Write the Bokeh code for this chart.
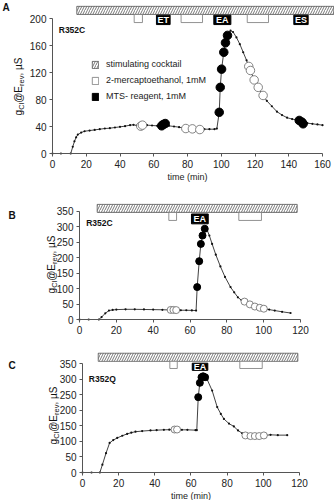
import math
from bokeh.plotting import figure
from bokeh.models import Range1d, FixedTicker, Label, Legend, LegendItem
from bokeh.core.properties import value
from bokeh.embed import file_html
from bokeh.resources import INLINE

FONT = "Liberation Sans"

# ---------------- data: panel A (R352C, ET / EA / ES) ----------------
a_time = [0, 5, 10.8, 12, 13, 14, 15, 17, 19, 22, 25, 28, 31, 34, 37, 40, 43, 46, 48, 50,
          52.3, 53.3, 56, 59, 62, 64.7, 65.6, 66.8, 69, 72, 75, 79, 82.9, 87.3, 90, 93, 96, 97.4,
          98.8, 99.4, 100.2, 101.5, 102.5, 103.7, 105.5, 107, 109, 111, 113, 115, 116.3, 117.3,
          119.5, 121.9, 124.8, 127, 130, 133, 136, 139, 142, 146.2, 147.8, 148.5, 151, 154, 157, 160]
a_gcl = [0, 0, 0, 10, 18, 24, 28, 31, 33, 34, 35, 36, 37, 37.5, 38.5, 39.5, 40.5, 42, 42.5, 41.5,
         40.5, 42, 42, 41.5, 41, 41, 43, 44.4, 41, 40, 39, 37, 36.5, 35.5, 36, 36, 36, 37,
         61, 98, 125, 150, 164, 175, 182, 180, 172, 162, 150, 138, 129, 123,
         109, 98, 86, 78, 70, 62, 57, 53, 51, 49, 46.5, 44, 45, 44, 43, 42]
a_open_t = [52.3, 53.3, 79, 82.9, 87.3, 116.3, 117.3, 119.5, 121.9, 124.8]
a_open_g = [40.5, 42, 37, 36.5, 35.5, 129, 123, 109, 98, 86]
a_fill_t = [64.7, 65.6, 66.8, 98.8, 99.4, 100.2, 101.5, 102.5, 103.7, 146.2, 147.8, 148.5]
a_fill_g = [41, 43, 44.4, 61, 98, 125, 150, 164, 175, 49, 46.5, 44]
a_cocktail = [14.4, 166.7]
a_me_start = [48.4, 76.2, 115.4]
a_me_end = [53.3, 88.9, 128.0]
a_mts_start = [61.6, 95.6, 143.0]
a_mts_end = [69.7, 105.7, 151.5]
a_mts_names = ["ET", "EA", "ES"]
a_xticks = [0, 20, 40, 60, 80, 100, 120, 140, 160]
a_yticks = [0, 40, 80, 120, 160, 200]

# ---------------- data: panel B (R352C, EA) ----------------
b_time = [0, 5, 10.5, 12, 14, 16, 18, 20, 25, 30, 35, 40, 45, 49.5, 51, 52.5, 55, 58, 61, 63.3,
          63.9, 65, 65.9, 66.8, 68, 69.3, 70.5, 72, 74, 76.5, 79, 82, 84, 86, 88, 89.6, 92.5,
          95.2, 97.9, 100.1, 103, 106, 110, 114.6]
b_gcl = [0, 0, 0, 8, 20, 29, 31, 32, 33, 33, 32.5, 32, 31.5, 31, 31, 30.5, 30, 30, 29.5, 29,
         105, 189, 245, 272, 294, 290, 272, 245, 210, 172, 138, 105, 88, 72, 62, 58, 49,
         42, 38, 35, 32, 29, 25, 21]
b_open_t = [49.5, 51, 52.5, 89.6, 92.5, 95.2, 97.9, 100.1]
b_open_g = [31, 31, 30.5, 58, 49, 42, 38, 35]
b_fill_t = [63.9, 65, 65.9, 66.8, 68]
b_fill_g = [105, 189, 245, 272, 294]
b_cocktail = [9.6, 118.2]
b_me_start = [48.5, 86.5]
b_me_end = [52.7, 98.8]
b_mts_start = [60.8]
b_mts_end = [69.9]
b_mts_names = ["EA"]
b_xticks = [0, 20, 40, 60, 80, 100, 120]
b_yticks = [0, 50, 100, 150, 200, 250, 300, 350]

# ---------------- data: panel C (R352Q, EA) ----------------
c_time = [0, 5, 9.6, 11, 13, 15, 17, 19.2, 22, 24.7, 27, 29.3, 33, 37.6, 41, 45, 48, 50.9, 52.3, 55,
          58, 62.5, 63.2, 64, 64.9, 65.8, 66.7, 67.8, 69, 71.7, 74.5, 76.5, 78.2, 81, 83.7, 86,
          88.3, 90.1, 92.9, 95.3, 97.7, 100.3, 104, 108, 113.2]
c_gcl = [0, 0, 0, 25, 62, 95, 104, 111, 118, 124, 128, 131, 133, 135, 136, 137, 137.5, 138, 138, 137,
         137, 136, 136, 242, 288, 306, 309, 306, 298, 263, 210, 188, 172, 157, 148, 135,
         126, 119, 117, 117, 117, 119, 121, 120, 120]
c_open_t = [50.9, 52.3, 90.1, 92.9, 95.3, 97.7, 100.3]
c_open_g = [138, 138, 119, 117, 117, 117, 119]
c_fill_t = [64, 64.9, 65.8, 66.7, 67.8]
c_fill_g = [242, 288, 306, 309, 306]
c_cocktail = [8.7, 119.1]
c_me_start = [48.3, 87.0]
c_me_end = [52.4, 99.4]
c_mts_start = [60.7]
c_mts_end = [69.3]
c_mts_names = ["EA"]
c_xticks = [0, 20, 40, 60, 80, 100, 120]
c_yticks = [0, 50, 100, 150, 200, 250, 300, 350]

# Arial-like advance widths (em) for composing the y-axis label
W = {"g": .556, "C": .722, "l": .222, "@": 1.015, "E": .667, "r": .333, "e": .556,
     "v": .5, ",": .278, " ": .278, "µ": .576, "S": .667}


def add_ylabel(p, x, y, size=10.0):
    """y-axis title g_Cl@E_rev, µS composed of rotated pieces (screen px, canvas origin)."""
    sub = size * 0.75
    parts = [("g", size, 0), ("Cl", sub, 2.6), ("@E", size, 0), ("rev", sub, 2.6), (", µS", size, 0)]
    widths = [sum(W[ch] for ch in t) * s for t, s, _ in parts]
    pos = y - sum(widths) / 2
    for (t, s, sh), w in zip(parts, widths):
        p.add_layout(Label(x=x + sh, y=pos, x_units="screen", y_units="screen", text=t,
                           angle=math.pi / 2, text_align="left", text_baseline="alphabetic",
                           text_font=FONT, text_font_size=f"{s}px", text_color="#111"))
        pos += w


def make_panel(height, ox, oy, sx, sy, xticks, yticks, xlabel):
    """Frame covers the whole canvas; (ox, oy) = pixel position of data origin from top-left,
    sx, sy = pixels per data unit.  Axes are pinned to the origin with fixed_location."""
    width = 334
    p = figure(width=width, height=height,
               x_range=Range1d(-ox / sx, (width - ox) / sx),
               y_range=Range1d(-(height - oy) / sy, oy / sy),
               output_backend="svg", toolbar_location=None,
               min_border_left=0, min_border_right=0, min_border_top=0, min_border_bottom=0)
    p.grid.visible = False
    p.outline_line_color = None
    p.background_fill_color = "white"
    p.border_fill_color = "white"
    p.xaxis.fixed_location = 0
    p.yaxis.fixed_location = 0
    p.xaxis.bounds = (xticks[0], xticks[-1])
    p.yaxis.bounds = (yticks[0], yticks[-1])
    p.xaxis.ticker = FixedTicker(ticks=xticks)
    p.yaxis.ticker = FixedTicker(ticks=yticks)
    for ax in (p.xaxis[0], p.yaxis[0]):
        ax.axis_line_color = "#555"
        ax.axis_line_width = 1
        ax.major_tick_line_color = "#555"
        ax.major_tick_in = 0
        ax.major_tick_out = 3
        ax.minor_tick_line_color = None
        ax.major_label_text_font = FONT
        ax.major_label_text_font_size = "10px"
        ax.major_label_text_color = "#222"
        ax.major_label_standoff = 3
    if xlabel:
        p.xaxis.axis_label = xlabel
        p.xaxis.axis_label_text_font = FONT
        p.xaxis.axis_label_text_font_size = "9px"
        p.xaxis.axis_label_text_font_style = "normal"
        p.xaxis.axis_label_text_color = "#222"
        p.xaxis.axis_label_standoff = 1
    return p


def draw_content(p, t, g, ot, og, ft, fg, cocktail, me_s, me_e, mts_s, mts_e, names,
                 bar_y, me_y, mts_y, msize, name, name_pos, letter, letter_pos):
    bar = p.quad(left=[cocktail[0]], right=[cocktail[1]], bottom=[bar_y[0]], top=[bar_y[1]],
                 fill_color="white", line_color="#555", line_width=0.8,
                 hatch_pattern="/", hatch_color="#555", hatch_scale=5, hatch_weight=0.8)
    me = p.quad(left=me_s, right=me_e, bottom=[me_y[0]] * len(me_s), top=[me_y[1]] * len(me_s),
                fill_color="white", line_color="#777", line_width=0.8)
    mts = p.quad(left=mts_s, right=mts_e, bottom=[mts_y[0]] * len(mts_s),
                 top=[mts_y[1]] * len(mts_s), fill_color="black", line_color="black")
    p.text(x=[(a + b) / 2 for a, b in zip(mts_s, mts_e)], y=[sum(mts_y) / 2] * len(mts_s),
           text=names, text_color="white", text_font=value(FONT), text_font_style="bold",
           text_font_size="9px", text_align="center", text_baseline="middle")
    p.line(t, g, line_color="#111", line_width=0.8)
    p.scatter(t, g, size=2.2, fill_color="#111", line_color=None)
    p.scatter(ot, og, size=msize, fill_color="white", line_color="#666", line_width=0.8)
    p.scatter(ft, fg, size=msize, fill_color="black", line_color="black")
    p.add_layout(Label(x=name_pos[0], y=name_pos[1], text=name, text_font=FONT,
                       text_font_style="bold", text_font_size="8.5px", text_color="#111",
                       text_baseline="middle", text_align="left"))
    p.add_layout(Label(x=letter_pos[0], y=letter_pos[1], x_units="screen", y_units="screen",
                       text=letter, text_font=FONT, text_font_style="bold",
                       text_font_size="10px", text_color="#111",
                       text_baseline="top", text_align="left"))
    return bar, me, mts


# ---------------- panel A ----------------
pA = make_panel(190, 52, 153, 1.6875, 0.675, a_xticks, a_yticks, "time (min)")
barA, meA, mtsA = draw_content(pA, a_time, a_gcl, a_open_t, a_open_g, a_fill_t, a_fill_g,
                               a_cocktail, a_me_start, a_me_end, a_mts_start, a_mts_end,
                               a_mts_names, (206, 218), (194, 206), (191, 205), 8.5,
                               "R352C", (3.7, 183), "A", (2, 189))
add_ylabel(pA, 18, 104)
legA = Legend(items=[LegendItem(label="stimulating cocktail", renderers=[barA]),
                     LegendItem(label="2-mercaptoethanol, 1mM", renderers=[meA]),
                     LegendItem(label="MTS- reagent, 1mM", renderers=[mtsA])],
              location=(91, 89), orientation="vertical", padding=0, margin=0, spacing=6,
              glyph_width=8, glyph_height=9, label_height=9, label_standoff=7,
              label_text_font=FONT, label_text_font_size="9px", label_text_color="#222",
              background_fill_alpha=0, border_line_color=None)
pA.add_layout(legA)

# ---------------- panel B ----------------
pB = make_panel(150, 79, 129, 1.8417, 0.3086, b_xticks, b_yticks, None)
draw_content(pB, b_time, b_gcl, b_open_t, b_open_g, b_fill_t, b_fill_g,
             b_cocktail, b_me_start, b_me_end, b_mts_start, b_mts_end, b_mts_names,
             (347, 373), (321, 347), (310, 342), 7, "R352C", (3.6, 313), "B", (8, 131))
add_ylabel(pB, 51, 76)

# ---------------- panel C ----------------
pC = make_panel(160, 82, 132, 1.8083, 0.3114, c_xticks, c_yticks, "time (min)")
draw_content(pC, c_time, c_gcl, c_open_t, c_open_g, c_fill_t, c_fill_g,
             c_cocktail, c_me_start, c_me_end, c_mts_start, c_mts_end, c_mts_names,
             (357, 383), (334, 357), (328, 351), 7, "R352Q", (3.5, 299), "C", (8, 141))
add_ylabel(pC, 53, 85)

# three independent roots stacked vertically (no frame alignment between panels)
open("out.html", "w").write(file_html([pA, pB, pC], INLINE))
